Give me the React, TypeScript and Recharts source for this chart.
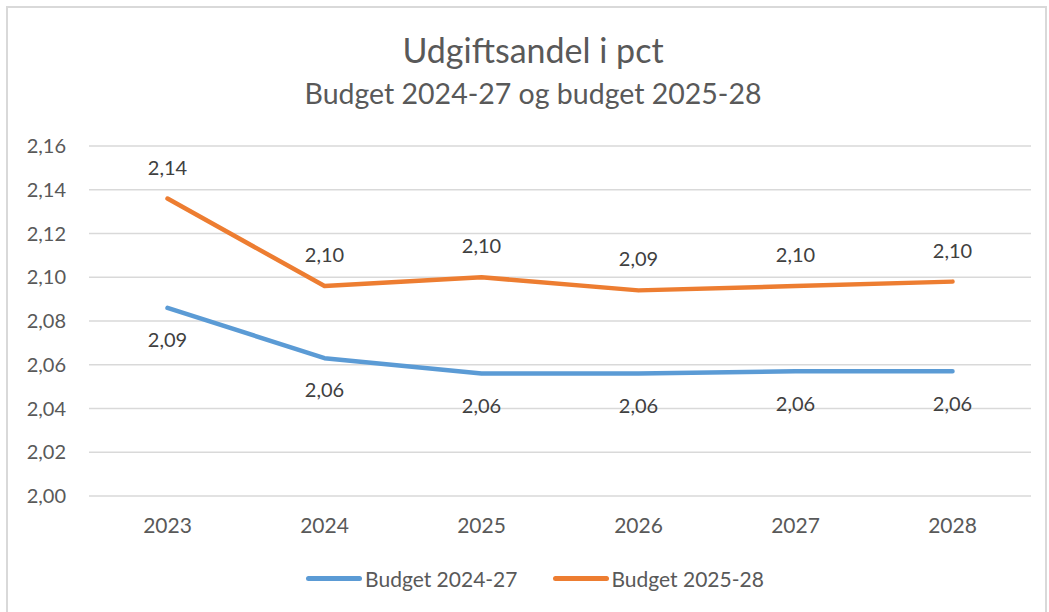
import React from 'react';
import { LineChart, Line, XAxis, YAxis, CartesianGrid, Legend, LabelList } from 'recharts';

const years = [2023, 2024, 2025, 2026, 2027, 2028];
const budget2427 = [2.086, 2.063, 2.056, 2.056, 2.057, 2.057];
const budget2528 = [2.136, 2.096, 2.1, 2.094, 2.096, 2.098];
const yTicks = [2.0, 2.02, 2.04, 2.06, 2.08, 2.1, 2.12, 2.14, 2.16];

const data = years.map((year, i) => ({
  year,
  b2427: budget2427[i],
  b2528: budget2528[i],
}));

const FONT = 'Lato, "Open Sans", sans-serif';
const TEXT = '#595959';
const BLUE = '#5B9BD5';
const ORANGE = '#ED7D31';

const fmt = (v: any) => Number(v).toFixed(2).replace('.', ',');

const legendItems = [
  { name: 'Budget 2024-27', color: BLUE },
  { name: 'Budget 2025-28', color: ORANGE },
];

const LegendContent = () => (
  <div style={{ display: 'flex', justifyContent: 'center', height: 24, alignItems: 'center', paddingLeft: 39, fontFamily: FONT }}>
    {legendItems.map((it, i) => (
      <div key={it.name} style={{ display: 'flex', alignItems: 'center', marginLeft: i ? 35 : 0 }}>
        <div style={{ width: 56, height: 5, borderRadius: 3, background: it.color, marginRight: 3 }} />
        <span style={{ fontSize: 21, color: TEXT }}>{it.name}</span>
      </div>
    ))}
  </div>
);

export default function App() {
  return (
    <div style={{ position: 'absolute', left: 0, top: 0, width: 1049, height: 612, overflow: 'hidden', background: '#fff' }}>
      <div style={{ position: 'absolute', left: 6, top: 6, width: 1037, height: 620, border: '2px solid #D9D9D9' }} />
      <svg width={1049} height={120} style={{ position: 'absolute', left: 0, top: 0 }}>
        <text x={533} y={63} textAnchor="middle" fontFamily={FONT} fontSize={34} fill={TEXT}>Udgiftsandel i pct</text>
        <text x={533} y={104} textAnchor="middle" fontFamily={FONT} fontSize={28.5} fill={TEXT}>Budget 2024-27 og budget 2025-28</text>
      </svg>
      <div style={{ position: 'absolute', left: 0, top: 0 }}>
        <LineChart width={1049} height={612} data={data} margin={{ top: 146, right: 18, bottom: 22, left: 0 }}>
          <CartesianGrid vertical={false} stroke="#D9D9D9" strokeWidth={1.5} />
          <XAxis
            dataKey="year"
            type="number"
            domain={[2022.5, 2028.5]}
            ticks={years}
            tickFormatter={(v) => String(v)}
            axisLine={false}
            tickLine={false}
            tickSize={0}
            tickMargin={22}
            height={70}
            tick={{ fill: TEXT, fontSize: 21, fontFamily: FONT }}
          />
          <YAxis
            domain={[2.0, 2.16]}
            ticks={yTicks}
            tickFormatter={fmt}
            axisLine={false}
            tickLine={false}
            tickSize={0}
            tickMargin={23}
            width={89}
            tick={{ fill: TEXT, fontSize: 20, fontFamily: FONT }}
          />
          <Legend verticalAlign="bottom" content={<LegendContent />} />
          <Line
            dataKey="b2427"
            name="Budget 2024-27"
            stroke={BLUE}
            strokeWidth={4.5}
            strokeLinecap="round"
            strokeLinejoin="round"
            dot={false}
            isAnimationActive={false}
          >
            <LabelList dataKey="b2427" position="bottom" offset={25} formatter={fmt} fill="#404040" fontSize={20} fontFamily={FONT} />
          </Line>
          <Line
            dataKey="b2528"
            name="Budget 2025-28"
            stroke={ORANGE}
            strokeWidth={4.5}
            strokeLinecap="round"
            strokeLinejoin="round"
            dot={false}
            isAnimationActive={false}
          >
            <LabelList dataKey="b2528" position="top" offset={24} formatter={fmt} fill="#404040" fontSize={20} fontFamily={FONT} />
          </Line>
        </LineChart>
      </div>
    </div>
  );
}
